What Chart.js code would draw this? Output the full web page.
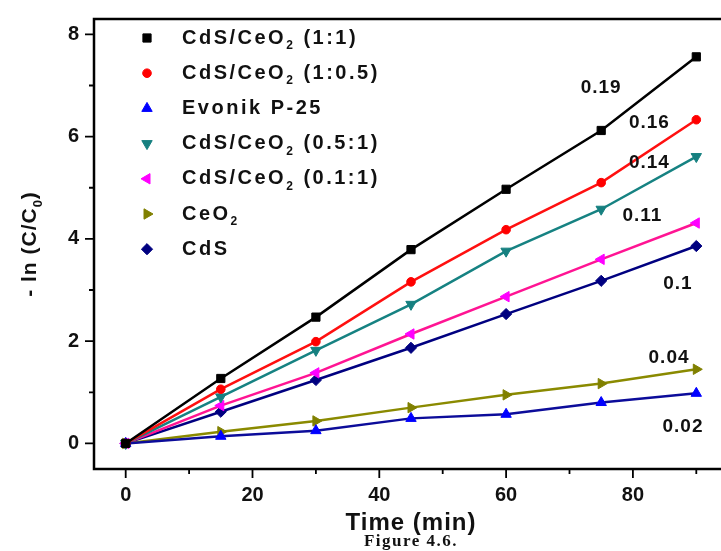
<!DOCTYPE html>
<html>
<head>
<meta charset="utf-8">
<script src="https://cdn.jsdelivr.net/npm/chart.js@4.4.1/dist/chart.umd.min.js"></script>
<style>
  html, body { margin: 0; padding: 0; background: #fff; overflow: hidden; }
  #contenedor { width: 735px; height: 551px; }
</style>
</head>
<body>
<div id="contenedor"><canvas id="grafico-cinetica" width="735" height="551"></canvas></div>
<script>
// Datos
const tiempos = [0, 15, 30, 45, 60, 75, 90];
const nombres = ['CdS/CeO₂ (1:1)', 'CdS/CeO₂ (1:0.5)', 'Evonik P-25', 'CdS/CeO₂ (0.5:1)', 'CdS/CeO₂ (0.1:1)', 'CeO₂', 'CdS'];
const serie11   = [0, 1.27, 2.47, 3.79, 4.97, 6.12, 7.56];
const serie105  = [0, 1.06, 1.99, 3.16, 4.18, 5.10, 6.33];
const serieP25  = [0, 0.14, 0.25, 0.49, 0.57, 0.80, 0.98];
const serie051  = [0, 0.91, 1.82, 2.72, 3.76, 4.58, 5.61];
const serie011  = [0, 0.74, 1.38, 2.14, 2.87, 3.60, 4.31];
const serieCeO2 = [0, 0.23, 0.44, 0.70, 0.95, 1.17, 1.45];
const serieCdS  = [0, 0.62, 1.24, 1.87, 2.53, 3.18, 3.86];
const constantes = ['0.19', '0.16', '0.14', '0.11', '0.1', '0.04', '0.02'];
const ticksX = [0, 20, 40, 60, 80];
const ticksY = [0, 2, 4, 6, 8];
const menoresX = [10, 30, 50, 70, 90];
const menoresY = [1, 3, 5, 7];

// Estilo de cada serie: [color línea, color marcador, forma, rotación, radio]
const estilos = [
  ['#000000', '#000000', 'rect', 0, 5.8],
  ['#ff1010', '#ff0000', 'circle', 0, 4.3],
  ['#0c0c9a', '#0000ff', 'triangle', 0, 6],
  ['#168282', '#168080', 'triangle', 180, 6],
  ['#ff1493', '#ff00ff', 'triangle', 270, 6],
  ['#8a8a00', '#808000', 'triangle', 90, 6],
  ['#000080', '#000080', 'rectRot', 0, 5.6]
];
// posición (en unidades de datos) de las constantes de velocidad
const posConstantes = [[75.0, 6.96], [82.6, 6.27], [82.6, 5.48], [81.5, 4.45], [87.1, 3.13], [85.7, 1.67], [87.9, 0.33]];

const FUENTE = '"Liberation Sans", Arial, sans-serif';
const series = [serie11, serie105, serieP25, serie051, serie011, serieCeO2, serieCdS];

const datasets = series.map((s, i) => {
  const [linea, marca, forma, rot, radio] = estilos[i];
  return {
    label: nombres[i],
    data: s.map((v, k) => ({ x: tiempos[k], y: v })),
    borderColor: linea,
    backgroundColor: marca,
    pointBackgroundColor: marca,
    pointBorderColor: marca,
    pointBorderWidth: 1,
    pointStyle: forma,
    pointRotation: rot,
    pointRadius: radio,
    borderWidth: 2.5,
    tension: 0
  };
});

// Texto con subíndices (₀, ₂)
function partesTexto(texto) {
  return texto.split(/([₀₂])/).filter(p => p.length);
}
function anchoTexto(ctx, texto, tam, esp) {
  let w = 0;
  partesTexto(texto).forEach(p => {
    const sub = (p === '₂' || p === '₀');
    ctx.font = `bold ${sub ? Math.round(tam * 0.6) : tam}px ${FUENTE}`;
    ctx.letterSpacing = esp + 'px';
    w += ctx.measureText(sub ? (p === '₂' ? '2' : '0') : p).width;
  });
  return w;
}
function dibujarTexto(ctx, texto, x, y, tam, esp) {
  partesTexto(texto).forEach(p => {
    const sub = (p === '₂' || p === '₀');
    const t = sub ? (p === '₂' ? '2' : '0') : p;
    ctx.font = `bold ${sub ? Math.round(tam * 0.6) : tam}px ${FUENTE}`;
    ctx.letterSpacing = esp + 'px';
    ctx.fillText(t, x, sub ? y + tam * 0.38 : y);
    x += ctx.measureText(t).width;
  });
}

const marco = {
  id: 'marco',
  beforeDatasetsDraw(chart) {
    const { ctx, chartArea: a, scales } = chart;
    ctx.save();
    ctx.strokeStyle = '#000';
    ctx.lineWidth = 2.5;
    ctx.strokeRect(a.left, a.top, a.right - a.left, a.bottom - a.top);
    ctx.lineWidth = 1.8;
    ctx.beginPath();
    ticksX.forEach(v => { const x = scales.x.getPixelForValue(v); ctx.moveTo(x, a.bottom); ctx.lineTo(x, a.bottom + 9); });
    menoresX.forEach(v => { const x = scales.x.getPixelForValue(v); ctx.moveTo(x, a.bottom); ctx.lineTo(x, a.bottom + 5); });
    ticksY.forEach(v => { const y = scales.y.getPixelForValue(v); ctx.moveTo(a.left, y); ctx.lineTo(a.left - 9, y); });
    menoresY.forEach(v => { const y = scales.y.getPixelForValue(v); ctx.moveTo(a.left, y); ctx.lineTo(a.left - 5, y); });
    ctx.stroke();
    ctx.restore();
  },
  afterDraw(chart) {
    const { ctx, chartArea: a, scales } = chart;
    ctx.save();
    ctx.fillStyle = '#111';
    ctx.textBaseline = 'middle';
    ctx.textAlign = 'left';

    // Leyenda
    chart.data.datasets.forEach((ds, i) => {
      const y = 38 + i * 35.2;
      ctx.fillStyle = ds.pointBackgroundColor;
      ctx.strokeStyle = ds.pointBorderColor;
      ctx.lineWidth = 1;
      Chart.helpers.drawPoint(ctx, { pointStyle: ds.pointStyle, radius: ds.pointRadius, rotation: ds.pointRotation, borderWidth: 1 }, 147, y);
      ctx.fillStyle = '#111';
      dibujarTexto(ctx, ds.label, 182, y, 20, 2.5);
    });

    // Constantes de velocidad
    ctx.textAlign = 'center';
    ctx.font = `bold 19px ${FUENTE}`;
    ctx.letterSpacing = '1px';
    constantes.forEach((t, i) => {
      const [vx, vy] = posConstantes[i];
      ctx.fillText(t, scales.x.getPixelForValue(vx), scales.y.getPixelForValue(vy));
    });

    // Títulos de ejes
    ctx.textAlign = 'left';
    const tx = 'Time (min)';
    const wx = anchoTexto(ctx, tx, 24, 1);
    dibujarTexto(ctx, tx, (a.left + a.right) / 2 - wx / 2, 523, 24, 1);

    const ty = '- ln (C/C₀)';
    const wy = anchoTexto(ctx, ty, 21, 1);
    ctx.translate(30, (a.top + a.bottom) / 2);
    ctx.rotate(-Math.PI / 2);
    dibujarTexto(ctx, ty, -wy / 2, 0, 21, 1);
    ctx.setTransform(1, 0, 0, 1, 0, 0);

    ctx.textAlign = 'center';
    ctx.letterSpacing = '1.5px';
    ctx.font = `bold 17px "Liberation Serif", "Times New Roman", serif`;
    ctx.fillText('Figure 4.6.', (a.left + a.right) / 2, 542);
    ctx.restore();
  }
};

new Chart(document.getElementById('grafico-cinetica').getContext('2d'), {
  type: 'line',
  data: { datasets: datasets },
  options: {
    responsive: false,
    animation: false,
    layout: { padding: { top: 0, right: 7, left: 0, bottom: 0 } },
    plugins: { legend: { display: false }, tooltip: { enabled: false } },
    scales: {
      x: {
        type: 'linear',
        min: -5,
        max: 95,
        grid: { display: false },
        border: { display: false },
        afterBuildTicks: s => { s.ticks = ticksX.map(v => ({ value: v })); },
        afterFit: s => { s.height = 82; },
        ticks: { padding: 6, color: '#111', font: { family: FUENTE, size: 20, weight: 'bold' } }
      },
      y: {
        type: 'linear',
        min: -0.5,
        max: 8.3,
        grid: { display: false },
        border: { display: false },
        afterBuildTicks: s => { s.ticks = ticksY.map(v => ({ value: v })); },
        afterFit: s => { s.width = 94; },
        ticks: { padding: 7, color: '#111', font: { family: FUENTE, size: 20, weight: 'bold' } }
      }
    }
  },
  plugins: [marco]
});
</script>
</body>
</html>
